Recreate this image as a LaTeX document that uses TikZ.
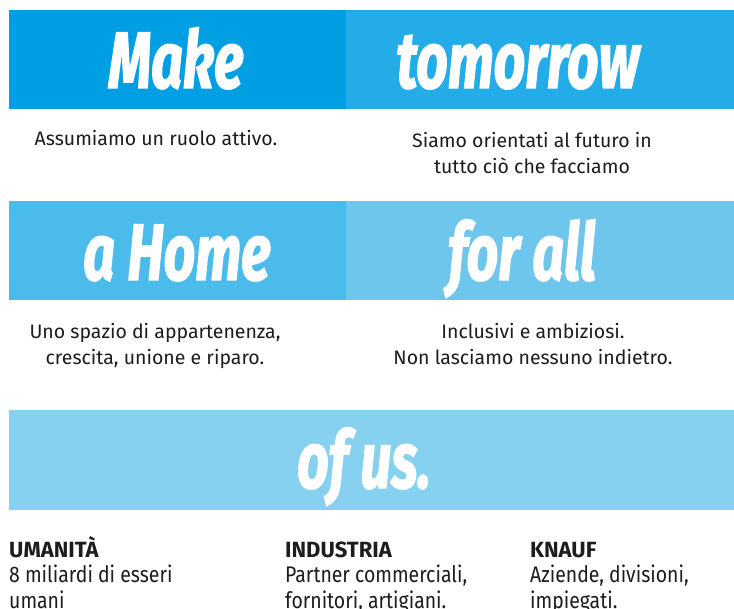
\documentclass[tikz,border=0pt]{standalone}
\usepackage{fontspec}
\setmainfont{Fira Sans}
\newfontfamily\titlefont[FakeStretch=0.69,FakeBold=1.6]{Fira Sans}
\newfontfamily\condfont[FakeStretch=0.86]{Fira Sans}
\definecolor{bandA}{HTML}{009FE3}
\definecolor{bandB}{HTML}{23ACE7}
\definecolor{bandC}{HTML}{4BBBEC}
\definecolor{bandD}{HTML}{6EC6EC}
\definecolor{bandE}{HTML}{87D1F0}
\definecolor{txt}{HTML}{1D1D1B}
\tikzset{
  title/.style={anchor=base, inner sep=0pt, text=white, font=\titlefont\bfseries\itshape\fontsize{80}{80}\selectfont},
  body/.style={anchor=base, inner sep=0pt, text=txt, align=center, font=\fontsize{19.5}{26}\selectfont},
  colhead/.style={anchor=base west, inner sep=0pt, text=txt, font=\bfseries\fontsize{22}{25}\selectfont},
  coltext/.style={anchor=base west, inner sep=0pt, text=txt, align=left, font=\condfont\fontsize{22.6}{25.5}\selectfont},
}
\begin{document}
\begin{tikzpicture}[x=1pt,y=-1pt]
\useasboundingbox (0,0) rectangle (734,609);
\fill[white] (0,0) rectangle (734,609);
% bands
\fill[bandA] (9,10) rectangle (346,109);
\fill[bandB] (346,10) rectangle (734,109);
\fill[bandC] (9,201) rectangle (346,300);
\fill[bandD] (346,201) rectangle (734,300);
\fill[bandE] (9,410) rectangle (734,510);
% titles
\node[title] (make) at (176,88) {Make};
\node[title] (tomorrow) at (518,88) {tomorrow};
\node[title] (home) at (177,280) {a Home};
\node[title] (forall) at (522,280) {for all};
\node[title] (ofus) at (364,488) {of us.};
% body texts
\node[body] (t1) at (156,146) {Assumiamo un ruolo attivo.};
\node[body, anchor=north] (t2) at (532,132) {Siamo orientati al futuro in\\tutto ciò che facciamo};
\node[body, anchor=north] (t3) at (155,323) {Uno spazio di appartenenza,\\crescita, unione e riparo.};
\node[body, anchor=north] (t4) at (533,323) {Inclusivi e ambiziosi.\\Non lasciamo nessuno indietro.};
% bottom columns
\node[colhead] (h1) at (9,557) {UMANITÀ};
\node[coltext, anchor=north west] (c1) at (9,565) {8 miliardi di esseri\\umani};
\node[colhead] (h2) at (285,557) {INDUSTRIA};
\node[coltext, anchor=north west] (c2) at (285,565) {Partner commerciali,\\fornitori, artigiani.};
\node[colhead] (h3) at (530,557) {KNAUF};
\node[coltext, anchor=north west] (c3) at (530,565) {Aziende, divisioni,\\impiegati.};
\end{tikzpicture}
\end{document}
